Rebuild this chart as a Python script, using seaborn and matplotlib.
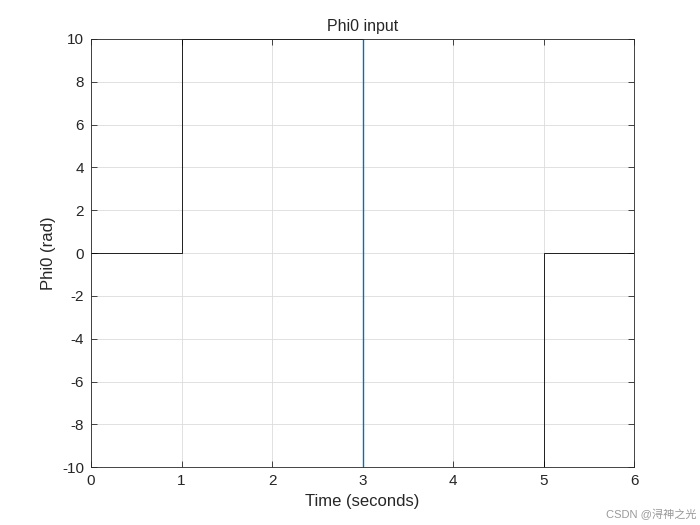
import matplotlib
matplotlib.use("Agg")
import matplotlib.pyplot as plt
import seaborn as sns
import pandas as pd

sns.set_theme(style="white")
plt.rcParams['font.family'] = ['Liberation Sans', 'Noto Sans CJK SC', 'DejaVu Sans']
plt.rcParams['axes.unicode_minus'] = False

t_black1 = [0, 1, 1, 3]
y_black1 = [0, 0, 10, 10]
t_blue = [3, 3]
y_blue = [10, -10]
t_black2 = [3, 5, 5, 6]
y_black2 = [-10, -10, 0, 0]
xticks = [0, 1, 2, 3, 4, 5, 6]
yticks = [-10, -8, -6, -4, -2, 0, 2, 4, 6, 8, 10]

fig = plt.figure(figsize=(7, 5.25), dpi=100)
ax = fig.add_axes([0.13, 0.110, 0.776, 0.816])
sns.lineplot(data=pd.DataFrame({"t": t_black1, "y": y_black1}), x="t", y="y", sort=False,
             color="black", lw=0.6, ax=ax, estimator=None)
sns.lineplot(data=pd.DataFrame({"t": t_black2, "y": y_black2}), x="t", y="y", sort=False,
             color="black", lw=0.6, ax=ax, estimator=None)
sns.lineplot(data=pd.DataFrame({"t": t_blue, "y": y_blue}), x="t", y="y", sort=False,
             color="#0072BD", lw=1.0, ax=ax, estimator=None)
ax.set_xlim(0, 6)
ax.set_ylim(-10, 10)
ax.set_xticks(xticks)
ax.set_yticks(yticks)
ax.grid(True, color="#dcdcdc", lw=0.6)
ax.set_axisbelow(True)
for s in ax.spines.values():
    s.set_color("#262626"); s.set_linewidth(0.6)
ax.tick_params(direction="in", length=4, width=0.6, labelsize=11, colors="#262626",
               top=True, right=True, bottom=True, left=True, pad=5)
ax.set_xlabel("Time (seconds)", fontsize=12, color="#262626")
ax.set_ylabel("Phi0 (rad)", fontsize=12, color="#262626")
ax.set_title("Phi0 input", fontsize=11.5, color="#262626", pad=6)
fig.text(0.995, 0.01, "CSDN @浔神之光", ha="right", va="bottom", fontsize=8, color="#999999")
fig.savefig("out.png", dpi=100, facecolor="white")
